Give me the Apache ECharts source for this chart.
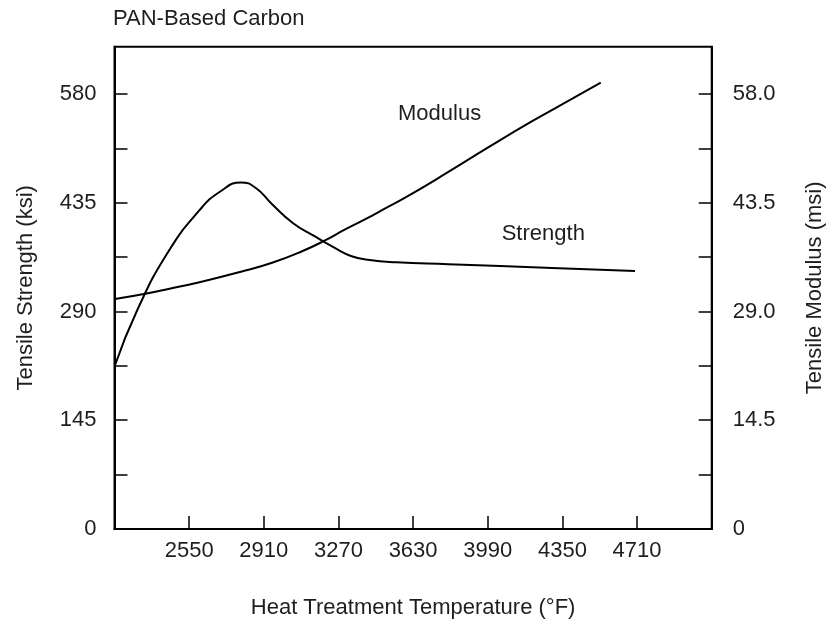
<!DOCTYPE html>
<html>
<head>
<meta charset="utf-8">
<script src="https://cdn.jsdelivr.net/npm/echarts@6/dist/echarts.min.js"></script>
<style>
html,body{margin:0;padding:0;background:#fff;}
#c{width:826px;height:621px;}
</style>
</head>
<body>
<div id="c"></div>
<script>
// Temperature ticks (°F)
const xTicks = [2550, 2910, 3270, 3630, 3990, 4350, 4710];
// Left axis (ksi) labels and ticks
const strengthLabels = [0, 145, 290, 435, 580];
const strengthTicks = [72.5, 145, 217.5, 290, 362.5, 435, 507.5, 580];
// Right axis (msi) labels and ticks
const modulusLabels = [0, 14.5, 29, 43.5, 58];
const modulusTicks = [7.25, 14.5, 21.75, 29, 36.25, 43.5, 50.75, 58];

// Tensile strength (ksi) vs heat treatment temperature (°F)
const strengthTemp = [2192, 2300, 2450, 2600, 2700, 2800, 2870, 2950, 3050, 3150, 3250, 3330, 3420, 3550, 3800, 4300, 4700];
const strengthVal  = [218, 292, 370, 425, 450, 462, 455, 433, 408, 391, 375, 364, 358.5, 355.5, 353, 348, 344];

// Tensile modulus (msi) vs heat treatment temperature (°F)
const modulusTemp = [2192, 2345, 2450, 2600, 2800, 2950, 3100, 3200, 3300, 3400, 3500, 3600, 3800, 4000, 4200, 4400, 4535];
const modulusVal  = [30.65, 31.4, 32.0, 32.9, 34.3, 35.5, 37.1, 38.4, 39.9, 41.3, 42.8, 44.3, 47.6, 51.0, 54.3, 57.4, 59.5];

const FONT = "'Liberation Sans', Arial, Helvetica, sans-serif";
const TXT = '#1e1e1e';
const FS = 22;

const chart = echarts.init(document.getElementById('c'), null, {renderer: 'canvas'});
chart.setOption({
  animation: false,
  backgroundColor: '#fff',
  textStyle: {fontFamily: FONT},
  title: {
    text: 'PAN-Based Carbon',
    left: 113, top: 8, padding: 0,
    textStyle: {fontSize: FS, fontWeight: 'normal', color: TXT, fontFamily: FONT}
  },
  grid: {
    left: 114.5, right: 114.3, top: 46.7, bottom: 92,
    containLabel: false, outerBoundsMode: 'none',
    show: true, borderColor: '#000', borderWidth: 2, backgroundColor: 'transparent'
  },
  xAxis: {
    type: 'value', min: 2190, max: 5070,
    name: 'Heat Treatment Temperature (°F)',
    nameLocation: 'middle', nameGap: 68,
    nameTextStyle: {fontSize: FS, color: TXT, fontFamily: FONT},
    axisLine: {show: true, lineStyle: {color: '#000', width: 2}},
    axisTick: {show: true, inside: true, length: 13, customValues: xTicks, lineStyle: {color: '#000', width: 1.5}},
    axisLabel: {customValues: xTicks, margin: 11, fontSize: FS, color: TXT, fontFamily: FONT,
      formatter: v => String(v)},
    splitLine: {show: false}
  },
  yAxis: [{
    type: 'value', min: 0, max: 643, position: 'left',
    name: 'Tensile Strength (ksi)',
    nameLocation: 'middle', nameGap: 78, nameRotate: 90,
    nameTextStyle: {fontSize: FS, color: TXT, fontFamily: FONT},
    axisLine: {show: true, lineStyle: {color: '#000', width: 2}},
    axisTick: {show: true, inside: true, length: 13, customValues: strengthTicks, lineStyle: {color: '#000', width: 1.5}},
    axisLabel: {customValues: strengthLabels, margin: 18, fontSize: FS, color: TXT, fontFamily: FONT,
      formatter: v => String(v)},
    splitLine: {show: false}
  }, {
    type: 'value', min: 0, max: 64.3, position: 'right',
    name: 'Tensile Modulus (msi)',
    nameLocation: 'middle', nameGap: 92, nameRotate: 90,
    nameTextStyle: {fontSize: FS, color: TXT, fontFamily: FONT},
    axisLine: {show: true, lineStyle: {color: '#000', width: 2}},
    axisTick: {show: true, inside: true, length: 13, customValues: modulusTicks, lineStyle: {color: '#000', width: 1.5}},
    axisLabel: {customValues: modulusLabels, margin: 21, fontSize: FS, color: TXT, fontFamily: FONT,
      formatter: v => v === 0 ? '0' : v.toFixed(1)},
    splitLine: {show: false}
  }],
  series: [{
    name: 'Strength', type: 'line', yAxisIndex: 0,
    data: strengthTemp.map((t, i) => [t, strengthVal[i]]),
    smooth: 0.5, showSymbol: false, symbol: 'none',
    lineStyle: {color: '#000', width: 2}
  }, {
    name: 'Modulus', type: 'line', yAxisIndex: 1,
    data: modulusTemp.map((t, i) => [t, modulusVal[i]]),
    smooth: 0.5, showSymbol: false, symbol: 'none',
    lineStyle: {color: '#000', width: 2}
  }],
  graphic: [{
    type: 'text', x: 398, y: 114.3,
    style: {text: 'Modulus', font: FS + 'px ' + FONT, fill: TXT, align: 'left', verticalAlign: 'middle'}
  }, {
    type: 'text', x: 501.7, y: 234.3,
    style: {text: 'Strength', font: FS + 'px ' + FONT, fill: TXT, align: 'left', verticalAlign: 'middle'}
  }]
});
</script>
</body>
</html>
